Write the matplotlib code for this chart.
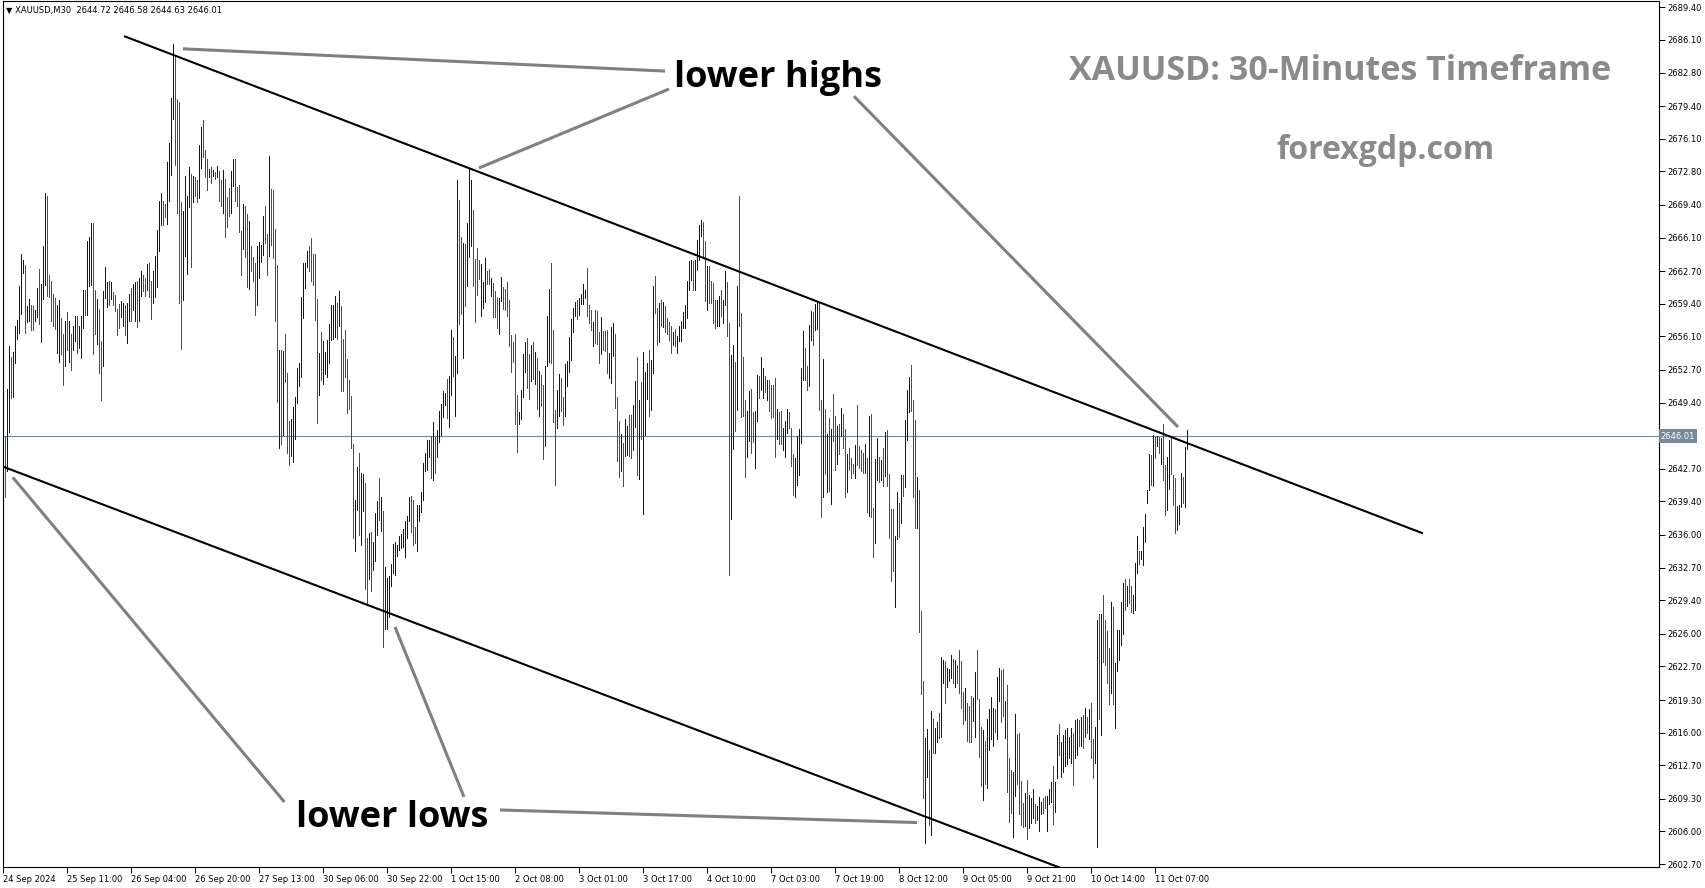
import matplotlib
matplotlib.use('Agg')
import matplotlib.pyplot as plt
import numpy as np

# XAUUSD M30 bars (high / low / up-down per bar)
highs = [
    2648.5, 2646.0, 2650.8, 2655.1, 2654.0, 2654.5, 2657.2, 2657.8, 2661.2, 2664.4,
    2663.8, 2663.3, 2659.2, 2659.9, 2659.3, 2659.2, 2658.8, 2661.0, 2662.9, 2661.4,
    2665.2, 2670.6, 2670.3, 2662.3, 2661.7, 2660.4, 2660.0, 2659.3, 2659.8, 2658.0,
    2656.3, 2657.7, 2658.6, 2657.7, 2656.3, 2657.1, 2658.2, 2658.2, 2657.1, 2658.2,
    2660.8, 2660.8, 2665.8, 2666.2, 2667.6, 2667.6, 2660.8, 2659.9, 2658.9, 2655.6,
    2660.7, 2663.1, 2661.6, 2661.7, 2661.6, 2660.6, 2660.3, 2658.9, 2659.4, 2659.7,
    2659.5, 2659.3, 2659.5, 2660.4, 2661.0, 2661.4, 2661.6, 2661.7, 2662.0, 2662.7,
    2662.3, 2662.0, 2663.4, 2663.5, 2661.7, 2662.7, 2664.2, 2666.9, 2669.8, 2670.6,
    2669.8, 2669.5, 2673.7, 2675.7, 2680.2, 2685.7, 2684.5, 2680.1, 2679.8, 2669.7,
    2668.8, 2672.3, 2670.3, 2673.2, 2672.5, 2672.3, 2672.2, 2671.9, 2675.5, 2677.3,
    2678.0, 2675.0, 2674.1, 2673.0, 2673.2, 2672.9, 2672.7, 2673.3, 2672.8, 2671.9,
    2672.9, 2672.0, 2670.2, 2671.1, 2672.8, 2674.0, 2674.0, 2671.2, 2671.4, 2666.8,
    2669.5, 2669.3, 2668.5, 2667.8, 2665.2, 2664.1, 2663.5, 2665.2, 2665.7, 2665.3,
    2668.3, 2669.3, 2666.5, 2674.4, 2671.0, 2670.9, 2667.0, 2663.3, 2654.7, 2654.7,
    2654.6, 2656.3, 2652.4, 2647.5, 2647.7, 2649.0, 2650.0, 2652.9, 2653.4, 2660.1,
    2663.5, 2663.5, 2664.7, 2665.2, 2666.1, 2664.4, 2664.4, 2659.9, 2654.4, 2656.5,
    2655.6, 2654.5, 2655.7, 2657.4, 2659.3, 2659.3, 2660.2, 2659.5, 2660.7, 2659.2,
    2655.8, 2656.7, 2653.8, 2651.7, 2650.1, 2645.2, 2639.5, 2642.9, 2644.3, 2642.3,
    2642.2, 2641.3, 2635.7, 2636.2, 2636.3, 2635.3, 2638.2, 2639.4, 2641.8, 2639.8,
    2638.4, 2632.8, 2631.6, 2631.9, 2633.1, 2635.1, 2635.3, 2635.0, 2635.9, 2636.1,
    2636.6, 2637.4, 2637.9, 2639.8, 2639.9, 2639.5, 2636.8, 2639.0, 2639.0, 2640.4,
    2643.3, 2644.3, 2645.6, 2645.6, 2646.0, 2647.4, 2645.9, 2646.6, 2648.5, 2649.3,
    2650.6, 2650.4, 2651.8, 2652.1, 2656.7, 2656.0, 2654.1, 2671.9, 2669.9, 2666.2,
    2665.5, 2665.4, 2667.6, 2673.1, 2671.9, 2668.9, 2663.9, 2665.0, 2663.8, 2663.4,
    2661.6, 2664.0, 2662.7, 2662.9, 2662.0, 2661.5, 2660.7, 2660.1, 2660.0, 2662.1,
    2661.1, 2660.9, 2661.6, 2659.8, 2656.2, 2655.5, 2656.3, 2650.2, 2648.4, 2650.7,
    2654.3, 2655.5, 2655.9, 2654.3, 2655.2, 2655.5, 2654.5, 2653.9, 2652.6, 2652.2,
    2651.2, 2653.1, 2658.2, 2660.9, 2663.5, 2656.7, 2648.6, 2650.7, 2652.3, 2651.9,
    2650.0, 2653.3, 2653.6, 2656.0, 2657.9, 2659.0, 2659.6, 2659.8, 2660.0, 2660.4,
    2661.4, 2660.8, 2663.0, 2659.3, 2658.8, 2657.6, 2658.8, 2658.7, 2656.5, 2658.1,
    2656.6, 2656.6, 2656.7, 2654.4, 2657.0, 2657.5, 2656.3, 2650.0, 2647.5, 2646.2,
    2645.3, 2647.7, 2647.0, 2648.1, 2648.1, 2649.2, 2651.6, 2654.0, 2649.7, 2651.5,
    2654.5, 2652.5, 2653.4, 2654.7, 2653.7, 2661.2, 2662.2, 2659.0, 2659.5, 2659.8,
    2659.6, 2659.2, 2658.0, 2657.6, 2657.1, 2656.5, 2656.8, 2656.1, 2657.2, 2657.7,
    2658.6, 2659.3, 2661.7, 2663.7, 2663.8, 2663.7, 2663.8, 2665.9, 2667.4, 2667.9,
    2667.7, 2665.8, 2663.2, 2663.2, 2661.7, 2661.5, 2659.8, 2659.8, 2660.2, 2660.8,
    2659.8, 2662.7, 2661.6, 2657.5, 2654.2, 2655.2, 2653.5, 2661.2, 2670.3, 2658.5,
    2654.0, 2649.7, 2648.5, 2650.6, 2650.8, 2648.4, 2648.5, 2652.2, 2652.1, 2654.0,
    2652.9, 2652.1, 2651.7, 2651.7, 2651.2, 2651.2, 2651.9, 2648.7, 2648.4, 2648.5,
    2646.8, 2647.5, 2648.7, 2648.4, 2646.8, 2644.2, 2643.8, 2646.0, 2646.7, 2652.9,
    2656.6, 2654.9, 2653.1, 2657.3, 2658.7, 2658.6, 2659.4, 2659.7, 2659.6, 2649.7,
    2653.8, 2648.8, 2646.2, 2647.8, 2646.7, 2650.3, 2648.0, 2647.0, 2647.2, 2648.9,
    2648.2, 2646.7, 2644.2, 2644.8, 2643.8, 2643.2, 2645.1, 2649.2, 2645.0, 2644.6,
    2644.3, 2645.2, 2643.8, 2648.0, 2648.2, 2638.7, 2643.7, 2645.8, 2643.9, 2643.6,
    2644.8, 2646.4, 2646.6, 2642.2, 2638.6, 2638.6, 2635.9, 2640.4, 2639.2, 2642.1,
    2642.1, 2647.6, 2650.7, 2652.0, 2653.2, 2649.7, 2647.6, 2641.9, 2640.6, 2628.3,
    2621.2, 2615.5, 2616.4, 2614.2, 2618.2, 2617.4, 2616.5, 2617.1, 2618.0, 2623.7,
    2623.3, 2623.2, 2622.5, 2622.4, 2623.9, 2623.4, 2623.3, 2622.8, 2624.4, 2623.2,
    2620.1, 2620.5, 2619.0, 2618.7, 2619.7, 2619.5, 2622.1, 2624.4, 2619.4, 2616.6,
    2616.3, 2615.2, 2617.4, 2618.4, 2619.6, 2618.5, 2618.4, 2621.6, 2622.5, 2622.3,
    2622.4, 2619.2, 2620.8, 2613.4, 2612.2, 2612.0, 2617.9, 2615.9, 2616.0, 2611.1,
    2608.9, 2609.9, 2611.2, 2609.7, 2609.4, 2610.3, 2608.8, 2608.6, 2609.5, 2609.0,
    2609.4, 2609.6, 2609.6, 2610.3, 2611.0, 2612.6, 2611.0, 2615.8, 2616.9, 2615.0,
    2615.8, 2616.3, 2616.5, 2615.6, 2616.5, 2616.0, 2617.3, 2617.4, 2617.3, 2617.6,
    2617.8, 2618.5, 2617.6, 2618.4, 2619.0, 2615.4, 2616.6, 2627.4, 2628.0, 2628.0,
    2629.9, 2627.4, 2626.3, 2624.6, 2629.2, 2628.7, 2623.0, 2626.4, 2626.4, 2629.2,
    2631.1, 2631.5, 2630.8, 2631.5, 2630.8, 2629.9, 2633.2, 2635.9, 2634.4, 2634.4,
    2636.8, 2638.1, 2640.6, 2644.2, 2644.1, 2646.1, 2645.9, 2646.0, 2645.9, 2645.8,
    2647.2, 2643.1, 2643.9, 2645.6, 2645.9, 2642.1, 2641.8, 2638.9, 2639.0, 2642.3,
    2641.9, 2644.9, 2646.6,
]

lows = [
    2642.8, 2639.8, 2642.5, 2646.4, 2649.9, 2650.0, 2653.4, 2655.8, 2656.4, 2658.4,
    2662.5, 2656.4, 2657.6, 2657.7, 2656.7, 2656.7, 2657.7, 2658.1, 2657.4, 2655.5,
    2659.9, 2661.3, 2660.2, 2660.1, 2657.7, 2657.2, 2656.8, 2654.4, 2653.5, 2654.3,
    2651.2, 2653.1, 2654.7, 2653.5, 2652.7, 2654.7, 2655.6, 2654.4, 2654.9, 2653.9,
    2656.9, 2658.3, 2658.3, 2661.2, 2661.3, 2654.3, 2656.3, 2655.3, 2652.4, 2649.7,
    2653.1, 2660.0, 2659.1, 2659.3, 2659.9, 2659.3, 2658.7, 2656.2, 2656.9, 2658.1,
    2657.2, 2656.2, 2655.4, 2657.7, 2657.7, 2658.8, 2657.7, 2657.0, 2657.7, 2660.2,
    2660.7, 2660.2, 2660.8, 2660.1, 2657.9, 2659.5, 2660.1, 2661.1, 2664.7, 2667.4,
    2667.4, 2668.2, 2667.5, 2669.8, 2672.4, 2678.1, 2673.4, 2668.6, 2659.5, 2654.8,
    2659.8, 2664.2, 2662.4, 2669.2, 2663.1, 2669.7, 2670.3, 2669.7, 2670.1, 2673.1,
    2674.3, 2672.2, 2670.9, 2672.2, 2671.6, 2672.3, 2672.0, 2672.2, 2669.8, 2669.3,
    2668.6, 2666.2, 2667.2, 2668.3, 2668.6, 2671.3, 2669.8, 2669.3, 2666.7, 2662.3,
    2664.9, 2664.1, 2661.1, 2660.9, 2662.7, 2661.7, 2658.3, 2659.3, 2662.0, 2663.6,
    2664.3, 2665.5, 2662.3, 2664.2, 2665.3, 2664.0, 2657.7, 2649.5, 2644.8, 2645.2,
    2646.1, 2651.5, 2644.3, 2643.1, 2644.0, 2643.4, 2645.7, 2649.4, 2651.1, 2652.0,
    2658.0, 2661.0, 2663.1, 2662.7, 2661.7, 2661.3, 2657.8, 2647.3, 2650.2, 2651.7,
    2651.3, 2652.3, 2652.0, 2653.4, 2655.7, 2655.8, 2656.0, 2655.8, 2657.1, 2650.6,
    2650.6, 2652.0, 2648.3, 2648.8, 2644.8, 2635.7, 2634.4, 2638.5, 2636.0, 2635.0,
    2638.4, 2630.5, 2628.9, 2631.5, 2630.3, 2632.5, 2633.4, 2636.0, 2637.5, 2636.4,
    2624.7, 2626.5, 2626.5, 2627.7, 2630.8, 2632.2, 2632.0, 2633.9, 2634.5, 2634.7,
    2634.8, 2633.8, 2635.7, 2637.4, 2636.3, 2635.0, 2635.2, 2634.4, 2637.4, 2638.3,
    2639.5, 2642.5, 2642.6, 2643.9, 2641.8, 2641.6, 2642.3, 2643.9, 2645.4, 2646.1,
    2647.9, 2649.2, 2647.8, 2646.9, 2650.2, 2652.1, 2648.0, 2652.4, 2657.4, 2658.4,
    2653.9, 2659.2, 2661.2, 2664.1, 2665.2, 2661.2, 2657.6, 2660.3, 2661.9, 2658.2,
    2659.0, 2659.6, 2661.4, 2661.4, 2660.2, 2658.1, 2658.1, 2656.9, 2656.3, 2659.7,
    2658.9, 2658.8, 2658.2, 2655.1, 2652.5, 2653.5, 2647.2, 2644.4, 2647.2, 2647.7,
    2650.0, 2652.5, 2650.9, 2649.8, 2651.6, 2651.8, 2651.3, 2648.8, 2648.0, 2649.1,
    2643.7, 2645.0, 2653.1, 2653.5, 2653.4, 2647.4, 2641.1, 2646.8, 2648.0, 2648.5,
    2647.1, 2648.0, 2651.1, 2652.5, 2653.7, 2656.5, 2658.2, 2657.9, 2658.3, 2659.4,
    2659.4, 2660.0, 2658.2, 2657.5, 2656.7, 2655.1, 2655.4, 2655.3, 2653.4, 2654.3,
    2654.7, 2654.6, 2652.4, 2651.9, 2651.4, 2654.1, 2648.9, 2643.5, 2641.9, 2642.5,
    2641.0, 2644.0, 2644.1, 2644.0, 2643.8, 2644.6, 2646.9, 2642.1, 2641.7, 2645.7,
    2638.1, 2646.1, 2649.8, 2648.0, 2648.6, 2652.4, 2658.5, 2655.2, 2655.5, 2657.2,
    2657.0, 2656.5, 2656.3, 2655.7, 2654.4, 2655.2, 2655.1, 2654.4, 2655.6, 2655.6,
    2656.9, 2656.9, 2658.0, 2660.8, 2661.8, 2660.8, 2660.8, 2662.8, 2663.8, 2666.3,
    2664.1, 2659.7, 2658.8, 2659.5, 2659.5, 2657.5, 2656.9, 2657.2, 2657.2, 2658.2,
    2657.5, 2659.3, 2656.1, 2632.0, 2637.6, 2644.7, 2646.5, 2648.6, 2657.1, 2647.9,
    2648.0, 2641.9, 2643.9, 2645.5, 2644.3, 2645.4, 2642.8, 2647.5, 2649.9, 2650.7,
    2649.9, 2650.5, 2649.7, 2648.5, 2647.8, 2647.9, 2643.9, 2645.7, 2645.2, 2645.2,
    2644.6, 2643.9, 2646.3, 2646.8, 2643.0, 2640.0, 2639.8, 2641.1, 2642.1, 2645.3,
    2651.7, 2651.7, 2650.7, 2651.1, 2655.7, 2655.2, 2656.7, 2656.8, 2648.6, 2637.8,
    2639.8, 2642.2, 2640.4, 2640.5, 2639.1, 2645.5, 2642.6, 2643.2, 2644.2, 2646.0,
    2644.8, 2639.8, 2640.4, 2642.6, 2641.8, 2642.3, 2641.8, 2643.1, 2642.8, 2642.5,
    2642.3, 2642.3, 2638.3, 2637.9, 2637.8, 2633.8, 2635.2, 2641.6, 2641.4, 2641.6,
    2641.0, 2642.0, 2641.0, 2635.7, 2631.3, 2632.4, 2628.7, 2635.6, 2635.8, 2637.2,
    2639.9, 2640.9, 2645.6, 2648.4, 2648.5, 2639.8, 2636.7, 2636.7, 2626.2, 2619.9,
    2609.4, 2604.8, 2611.5, 2606.7, 2605.6, 2613.9, 2613.9, 2615.0, 2615.5, 2615.6,
    2621.0, 2619.0, 2620.6, 2621.2, 2621.5, 2621.0, 2620.6, 2621.0, 2620.0, 2618.5,
    2616.9, 2617.3, 2615.2, 2615.0, 2615.1, 2617.2, 2615.6, 2619.4, 2613.5, 2610.6,
    2609.2, 2610.8, 2610.4, 2614.2, 2615.4, 2614.6, 2616.1, 2615.4, 2619.2, 2617.1,
    2617.7, 2615.5, 2610.0, 2607.0, 2607.9, 2605.4, 2609.6, 2610.8, 2607.8, 2606.7,
    2606.4, 2606.5, 2605.2, 2606.3, 2606.9, 2607.4, 2606.9, 2607.2, 2606.0, 2607.8,
    2607.9, 2608.4, 2606.0, 2608.8, 2609.0, 2606.8, 2608.0, 2611.4, 2613.7, 2611.5,
    2612.0, 2612.6, 2612.8, 2613.4, 2612.9, 2610.7, 2613.4, 2613.7, 2614.6, 2614.6,
    2614.4, 2615.6, 2616.0, 2615.4, 2613.4, 2611.4, 2612.9, 2604.4, 2617.4, 2615.8,
    2623.1, 2622.8, 2621.0, 2618.9, 2620.0, 2618.9, 2616.5, 2622.2, 2623.3, 2624.9,
    2626.0, 2628.4, 2628.8, 2629.1, 2628.2, 2628.1, 2628.4, 2632.2, 2633.1, 2633.6,
    2633.0, 2635.3, 2639.2, 2640.6, 2641.1, 2641.0, 2643.8, 2645.0, 2644.3, 2643.2,
    2641.6, 2638.0, 2638.5, 2640.7, 2642.2, 2639.0, 2636.2, 2636.5, 2637.1, 2638.8,
    2639.2, 2638.8, 2644.7,
]

# u = bullish bar (blue), d = bearish bar (red)
dirs = [
    "uduuduuuuu", "uduudduudu", "uuddddduud", "dududuuduu", "uduuuddudd",
    "uuududdddu", "uduuduuduu", "ddudduuuuu", "dduuuudddd", "uuuududduu",
    "dddudududd", "uddduudddd", "udduddduuu", "udduddddud", "uddduuuuuu",
    "uuudddddud", "uuuuuuudud", "dddddduudu", "udduduuudu", "duuuuuuuuu",
    "uuuuddduuu", "uuuududuuu", "uuduuduudd", "uduuuddddu", "uudduddduu",
    "dddddddduu", "uuddududud", "duuuddduud", "duuuuuuduu", "uudddudddu",
    "ddduuudddu", "duudduudud", "uuuduuddud", "udddduduuu", "uuuuuduuuu",
    "ddudddduud", "uudduududd", "dduudduudu", "ududdddudd", "uuuddduuuu",
    "udduuduudd", "udududdudu", "dduddduddd", "dududduudu", "dudddduudu",
    "duuudddudd", "duududuudu", "uduuududdd", "duddduuddd", "uduuuuduud",
    "duddduuddd", "duduuuduuu", "dduuuduudu", "uuuuuduudu", "dududduudu",
    "dddduduuuu", "ududduuudu", "uuuudududu", "dduuddduuu", "duu",
]

bid = 2646.01
header = "\u25bc XAUUSD,M30  2644.72 2646.58 2644.63 2646.01"

price_ticks = [2689.40, 2686.10, 2682.80, 2679.40, 2676.10, 2672.80, 2669.40,
               2666.10, 2662.70, 2659.40, 2656.10, 2652.70, 2649.40, 2642.70,
               2639.40, 2636.00, 2632.70, 2629.40, 2626.00, 2622.70, 2619.30,
               2616.00, 2612.70, 2609.30, 2606.00, 2602.70]

time_ticks = list(range(0, 577, 32))
time_labels = ['24 Sep 2024', '25 Sep 11:00', '26 Sep 04:00', '26 Sep 20:00',
               '27 Sep 13:00', '30 Sep 06:00', '30 Sep 22:00', '1 Oct 15:00',
               '2 Oct 08:00', '3 Oct 01:00', '3 Oct 17:00', '4 Oct 10:00',
               '7 Oct 03:00', '7 Oct 19:00', '8 Oct 12:00', '9 Oct 05:00',
               '9 Oct 21:00', '10 Oct 14:00', '11 Oct 07:00']

UP = '#0000cc'
DOWN = '#ff0000'
GREY = '#808080'

fig = plt.figure(figsize=(17.05, 8.88), dpi=100)
fig.patch.set_facecolor('white')
ax = fig.add_axes([3 / 1705, 21 / 888, 1656 / 1705, 866 / 888])
ax.set_xlim(-0.2, 827.8)
ax.set_ylim(2602.4, 2690.04)

flags = ''.join(dirs)
idx = np.arange(len(highs))
colors = [UP if f == 'u' else DOWN for f in flags]
ax.vlines(idx, lows, highs, colors=colors, linewidth=0.55, antialiased=False)

# bid line
ax.axhline(bid, color='#778899', linewidth=0.8, zorder=1)

# channel lines
ax.plot([60.8, 709.3], [2686.45, 2636.2], color='black', lw=1.5)
ax.plot([-1, 540], [2642.98, 2601.43], color='black', lw=1.5)

# grey pointer lines
pointers = [
    ((89.8, 2685.2), (330.8, 2682.95)),
    ((237.8, 2673.14), (332.8, 2681.13)),
    ((425.3, 2680.4), (587.3, 2646.93)),
    ((4.7, 2641.83), (140.5, 2608.98)),
    ((195.8, 2626.69), (230.3, 2609.49)),
    ((248.3, 2608.17), (456.8, 2606.9)),
]
for (x0, y0), (x1, y1) in pointers:
    ax.plot([x0, x1], [y0, y1], color=GREY, lw=2.2, solid_capstyle='butt')

ax.text(335.5, 2682.25, 'lower highs', fontsize=26, fontweight='bold',
        family='Open Sans', ha='left', va='center', color='black')
ax.text(146.3, 2607.35, 'lower lows', fontsize=26, fontweight='bold',
        family='Open Sans', ha='left', va='center', color='black')
ax.text(668.3, 2683.0, 'XAUUSD: 30-Minutes Timeframe', fontsize=24.5,
        fontweight='bold', family='Open Sans', ha='center', va='center',
        color='#8a8a8a')
ax.text(690.8, 2674.95, 'forexgdp.com', fontsize=23, fontweight='bold',
        family='Open Sans', ha='center', va='center', color='#8a8a8a')

# axes styling, MT4 like
for s in ax.spines.values():
    s.set_color('black')
    s.set_linewidth(0.8)
ax.yaxis.tick_right()
ax.set_yticks(price_ticks)
ax.set_yticklabels(['%.2f' % p for p in price_ticks])
ax.tick_params(axis='y', direction='out', length=4, width=0.7, labelsize=6,
               pad=2, colors='black')
ax.set_xticks(time_ticks)
ax.set_xticklabels(time_labels)
ax.tick_params(axis='x', direction='out', length=4, width=0.7, labelsize=6,
               pad=2, colors='black')
for lbl in ax.get_xticklabels():
    lbl.set_ha('left')

ax.text(1.001, bid, '%.2f' % bid, transform=ax.get_yaxis_transform(),
        fontsize=6, ha='left', va='center', color='white',
        bbox=dict(boxstyle='square,pad=0.25', fc='#778899', ec='none'))

fig.text(6 / 1705, 1 - 11 / 888, header, fontsize=6, va='center', ha='left')

fig.savefig('out.png', dpi=100)
